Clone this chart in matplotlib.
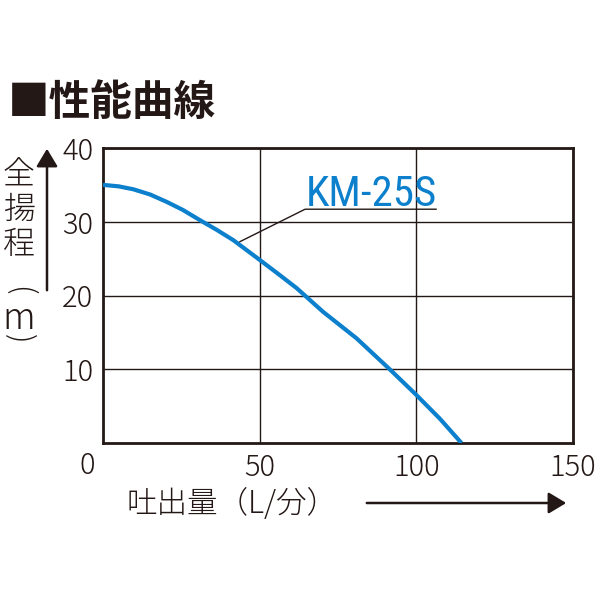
import matplotlib
matplotlib.use("Agg")
import matplotlib.pyplot as plt
from matplotlib import font_manager
from matplotlib.patches import FancyArrowPatch

# ---- data ----
flow = [0, 5, 9.7, 15, 20.3, 25.5, 31, 36.3, 41.6, 50.1, 56, 61.8, 70.2, 80.9, 91.5, 99.8, 107.5, 114.4]
head = [35.0, 34.8, 34.4, 33.7, 32.7, 31.6, 30.2, 28.9, 27.5, 24.8, 22.9, 21.0, 17.8, 14.2, 10.0, 6.6, 3.3, 0.0]
x_ticks = [50, 100, 150]
y_ticks = [10, 20, 30, 40]
series_name = "KM-25S"
title = "■性能曲線"
xlabel = "吐出量（L/分）"
ylabel_chars = ["全", "揚", "程"]
ylabel_unit = ["(", "m", ")"]

CJK = ["Noto Sans CJK JP", "DejaVu Sans"]
plt.rcParams['font.family'] = CJK
dark = "#231815"
blue = "#0c80cc"

# pick a condensed font if available
narrow_family, narrow_stretch = "DejaVu Sans", "normal"
cands = []
for f in font_manager.fontManager.ttflist:
    n = f.name
    if "Narrow" in n or "Condensed" in n:
        cands.append((n, "normal"))
    elif str(f.stretch) in ("condensed", "semi-condensed", "75", "87"):
        cands.append((n, "condensed"))
for pref in ["Liberation Sans Narrow", "Roboto Condensed", "Open Sans Condensed",
             "DejaVu Sans Condensed"]:
    hit = [c for c in cands if c[0] == pref]
    if hit:
        narrow_family, narrow_stretch = hit[0]
        break
else:
    for n, s in cands:
        if n in ("Roboto", "Open Sans", "DejaVu Sans", "Noto Sans"):
            narrow_family, narrow_stretch = n, s
            break

W = H = 600
fig = plt.figure(figsize=(6, 6), dpi=100)
ax = fig.add_axes([103/W, 1-443/H, 470/W, 295/H])
ax.set_xlim(0, 150)
ax.set_ylim(0, 40)

ax.plot(flow, head, color=blue, lw=3.0, solid_capstyle='butt',
        solid_joinstyle='round', zorder=3)

ax.set_xticks(x_ticks)
ax.set_yticks(y_ticks)
ax.grid(True, color=dark, lw=1.0)
ax.tick_params(length=0, labelsize=21, colors=dark, pad=7)
for lab in ax.get_xticklabels() + ax.get_yticklabels():
    lab.set_fontweight('light')
for s in ax.spines.values():
    s.set_color(dark)
    s.set_linewidth(2)
ax.text(-5, -1.0, "0", ha='center', va='top', fontsize=21, color=dark,
        fontweight='light')

# series label with underline and leader
ax.text(85.5, 32.2, series_name, color=blue, fontsize=31, family=narrow_family,
        fontstretch=narrow_stretch, ha='center', va='baseline', zorder=4)
ax.plot([43.7, 64.5, 106.3], [27.3, 31.7, 31.7], color=dark, lw=1.0, zorder=4)

# title
fig.text(8/W, 1-103/H, title, fontsize=30, fontweight='bold', color=dark,
         ha='left', va='center')

# y label (vertical stacking)
for ch, y in zip(ylabel_chars, [175, 210, 245]):
    fig.text(19/W, 1-y/H, ch, fontsize=23, color=dark, ha='center', va='center',
             fontweight='light')
for ch, y, rot, fs in zip(ylabel_unit, [291, 314, 339], [-90, 0, -90], [22, 26, 22]):
    fig.text(19/W, 1-y/H, ch, fontsize=fs, color=dark, ha='center',
             va='center_baseline' if rot == 0 else 'center',
             rotation=rot, fontweight='light')

# x label
fig.text(127/W, 1-504/H, xlabel, fontsize=22, color=dark, ha='left', va='center',
         fontweight='light')

# arrows
style = '-|>,head_length=1.08,head_width=0.65'
fig.add_artist(FancyArrowPatch(
    (47/W, 1-293/H), (47/W, 1-146/H), transform=fig.transFigure,
    arrowstyle=style, mutation_scale=10, color=dark, lw=1.8))
fig.add_artist(FancyArrowPatch(
    (364/W, 1-503/H), (569/W, 1-503/H), transform=fig.transFigure,
    arrowstyle=style, mutation_scale=10, color=dark, lw=1.8))

fig.savefig("out.png", dpi=100, facecolor='white')
